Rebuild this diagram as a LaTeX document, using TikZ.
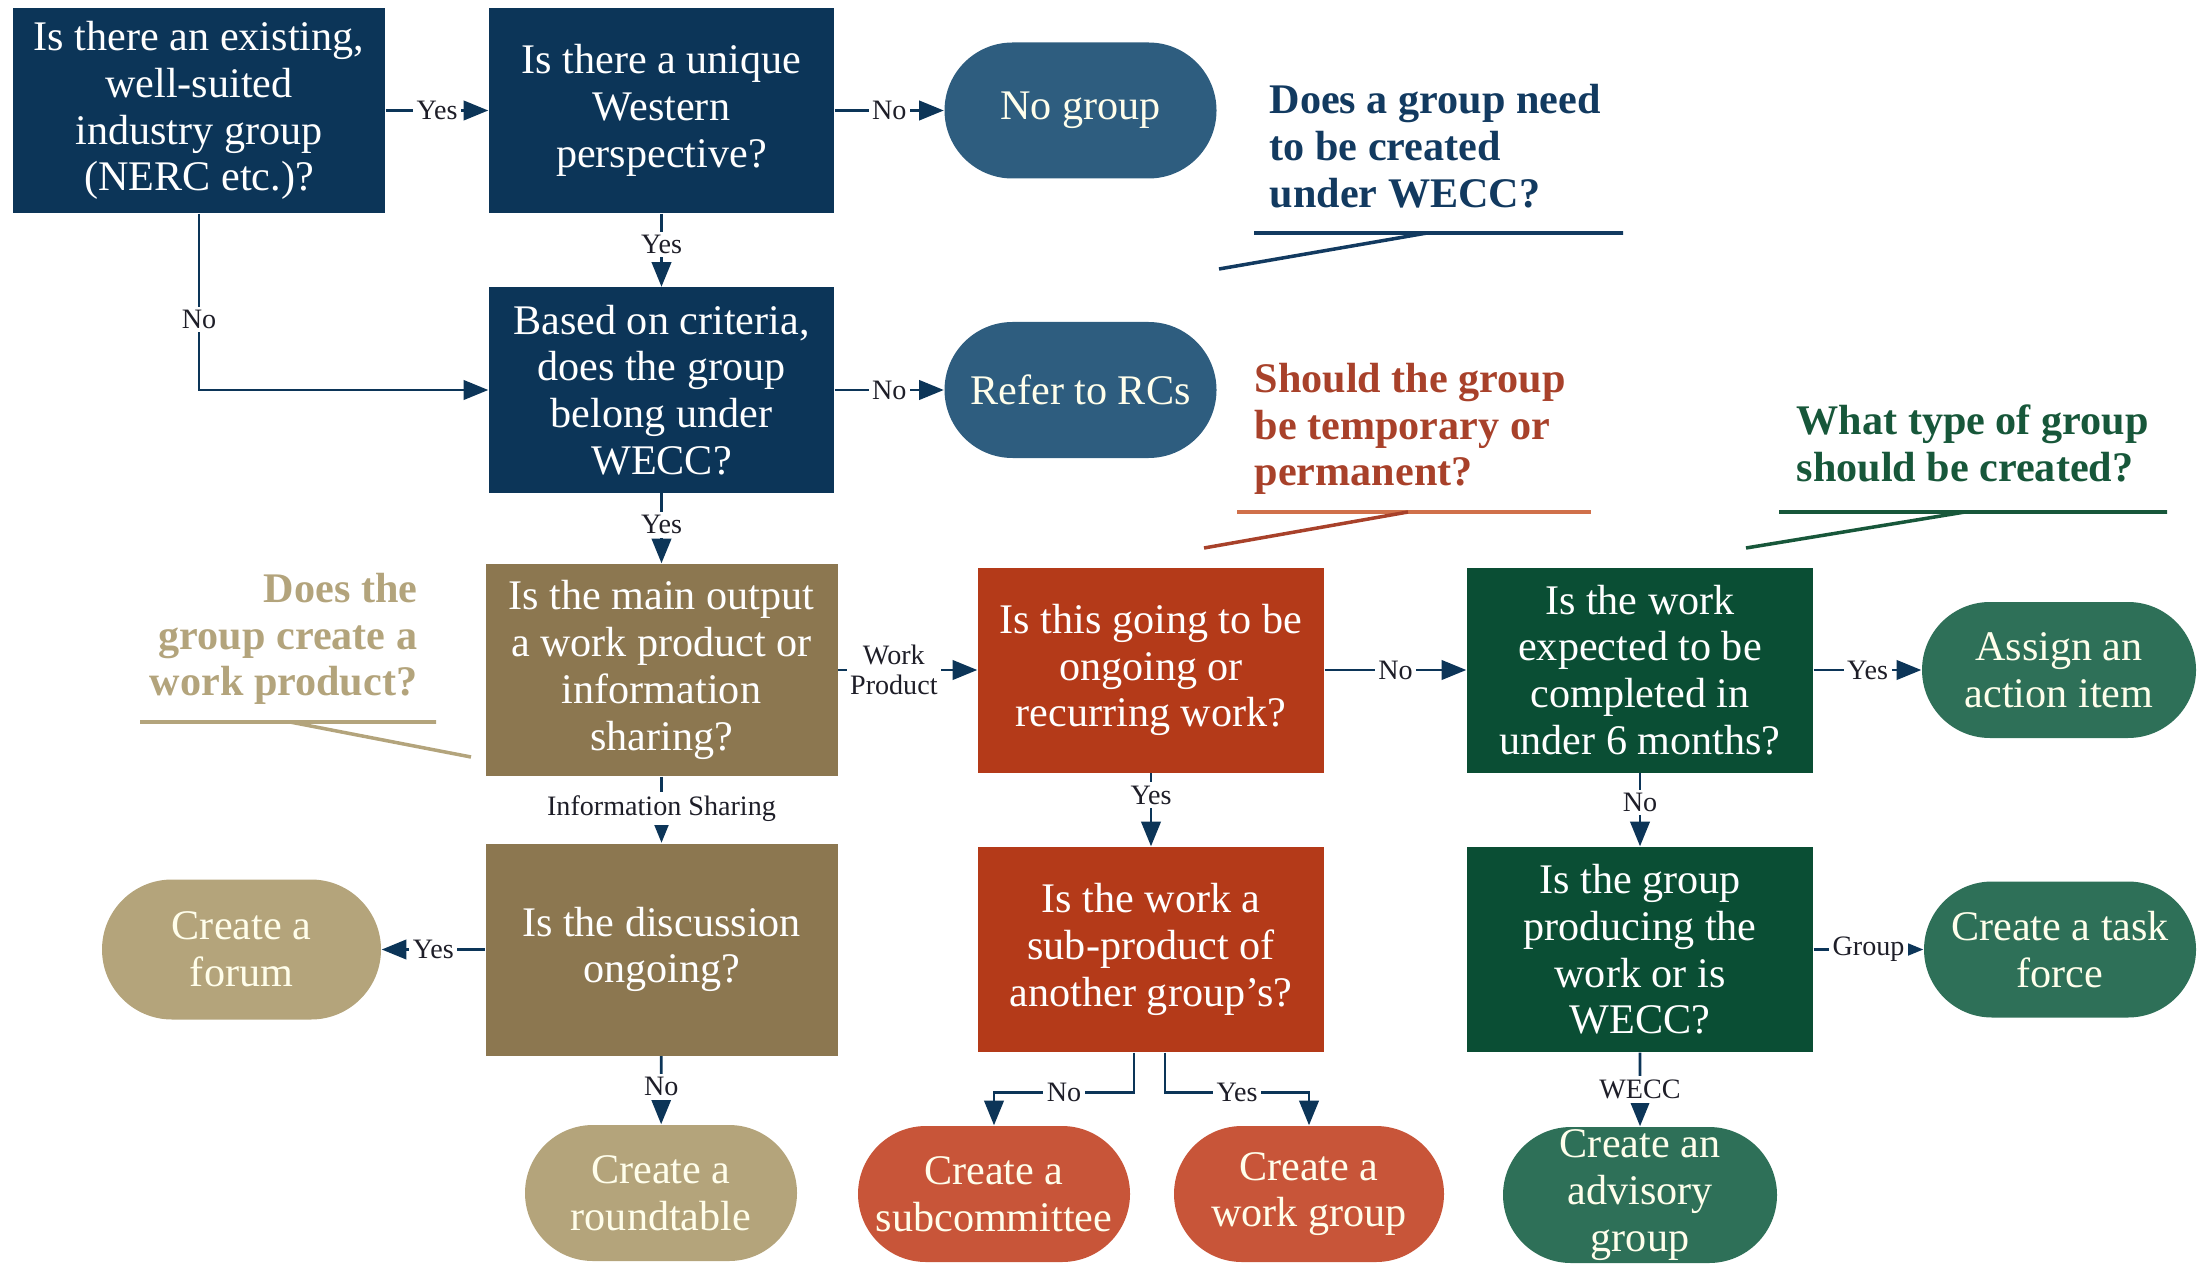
\documentclass[tikz,border=0pt]{standalone}
\usepackage{fontspec}
\setmainfont{Liberation Serif}
\usepackage{tikz}
\usetikzlibrary{arrows.meta, shapes.misc}

\definecolor{navyBox}{RGB}{12,53,88}
\definecolor{slateEnd}{RGB}{46,93,127}
\definecolor{goldBox}{RGB}{140,119,80}
\definecolor{goldEnd}{RGB}{180,164,123}
\definecolor{rustBox}{RGB}{180,58,25}
\definecolor{rustEnd}{RGB}{200,85,57}
\definecolor{greenBox}{RGB}{10,78,52}
\definecolor{greenEnd}{RGB}{46,112,88}
\definecolor{navyText}{RGB}{18,58,96}
\definecolor{rustText}{RGB}{168,65,42}
\definecolor{rustLine}{RGB}{208,112,74}
\definecolor{greenText}{RGB}{23,87,58}
\definecolor{goldText}{RGB}{179,164,124}
\definecolor{lblText}{RGB}{30,30,40}

\newcommand{\boxfont}{\fontsize{12}{13.3}\selectfont}
\newcommand{\lblfont}{\fontsize{8}{8.5}\selectfont}

\tikzset{
	qbox/.style={rectangle, minimum width=3.46cm, minimum height=2.05cm, inner sep=0pt, text=white, align=center, font=\boxfont},
	endbox/.style={rounded rectangle, minimum width=2.72cm, minimum height=1.36cm, inner sep=0pt, text=white!92!yellow, align=center, font=\boxfont},
	note/.style={inner sep=0pt, font=\boxfont\bfseries},
	arr/.style={draw=navyBox, line width=0.8pt, -{Triangle[length=7pt, width=5.5pt]}},
	lbl/.style={fill=white, inner sep=1pt, text=lblText, font=\lblfont, align=center},
	callout/.style={line width=1pt}
}

\begin{document}
\begin{tikzpicture}
		\useasboundingbox (0,0) rectangle (22.06,-12.65);
		
		\node[qbox, fill=navyBox, minimum width=3.72cm] (q1) at (1.99,-1.105){Is there an existing,\\ well-suited\\ industry group\\ (NERC etc.)?};
		\node[qbox, fill=navyBox, minimum width=3.45cm] (q2) at (6.615,-1.105){Is there a unique\\ Western\\ perspective?};
		\node[qbox, fill=navyBox, minimum width=3.45cm] (q3) at (6.615,-3.90){Based on criteria,\\ does the group\\ belong under\\ WECC?};
		\node[endbox, fill=slateEnd] (nogroup) at (10.805,-1.105){No group};
		\node[endbox, fill=slateEnd] (refer) at (10.805,-3.90){Refer to RCs};
		
		\node[qbox, fill=goldBox, minimum width=3.52cm, minimum height=2.12cm] (q4) at (6.615,-6.70){Is the main output\\ a work product or\\ information\\ sharing?};
		\node[qbox, fill=goldBox, minimum width=3.52cm, minimum height=2.12cm] (q5) at (6.615,-9.495){Is the discussion\\ ongoing?};
		\node[endbox, fill=goldEnd, minimum width=2.79cm, minimum height=1.40cm] (forum) at (2.415,-9.495){Create a\\ forum};
		\node[endbox, fill=goldEnd] (roundtable) at (6.61,-11.93){Create a\\ roundtable};
		
		\node[qbox, fill=rustBox] (q6) at (11.51,-6.70){Is this going to be\\ ongoing or\\ recurring work?};
		\node[qbox, fill=rustBox] (q7) at (11.51,-9.495){Is the work a\\ sub-product of\\ another group’s?};
		\node[endbox, fill=rustEnd] (subcomm) at (9.94,-11.94){Create a\\ subcommittee};
		\node[endbox, fill=rustEnd, minimum width=2.70cm] (workgroup) at (13.09,-11.94){Create a\\ work group};
		
		\node[qbox, fill=greenBox] (q8) at (16.40,-6.70){Is the work\\ expected to be\\ completed in\\ under 6 months?};
		\node[qbox, fill=greenBox] (q9) at (16.40,-9.495){Is the group\\ producing the\\ work or is\\ WECC?};
		\node[endbox, fill=greenEnd, minimum width=2.74cm] (action) at (20.59,-6.70){Assign an\\ action item};
		\node[endbox, fill=greenEnd] (taskforce) at (20.60,-9.495){Create a task\\ force};
		\node[endbox, fill=greenEnd, minimum width=2.74cm] (advisory) at (16.40,-11.95){Create an\\ advisory\\ group};
		
		\node[note, text=navyText, anchor=west, align=left] (needgroup) at (12.69,-1.46){Does a group need\\ to be created\\ under WECC?};
		\node[note, text=rustText, anchor=west, align=left] (temporary) at (12.54,-4.29){Should the group\\ be temporary or\\ permanent?};
		\node[note, text=greenText, anchor=west, align=left] (grouptype) at (17.96,-4.435){What type of group\\ should be created?};
		\node[note, text=goldText, anchor=east, align=right] (workprod) at (4.18,-6.39){Does the\\ group create a\\ work product?};
		
		\draw[callout, navyText] (12.54,-2.33) -- (16.23,-2.33) (14.27,-2.33) -- (12.19,-2.69);
		\draw[callout, rustLine] (12.37,-5.12) -- (15.91,-5.12);
		\draw[callout, rustText] (14.08,-5.12) -- (12.04,-5.48);
		\draw[callout, greenText] (17.79,-5.12) -- (21.67,-5.12) (19.65,-5.12) -- (17.46,-5.48);
		\draw[callout, goldText] (1.40,-7.22) -- (4.36,-7.22) (2.90,-7.22) -- (4.71,-7.57);
		
		\draw[arr] (q1) -- node[lbl]{Yes} (q2);
		\draw[arr] (q2) -- node[lbl]{No} (nogroup);
		\draw[arr] (q1.south) |- node[lbl, pos=0.3]{No} (q3.west);
		\draw[arr] (q2) -- node[lbl, pos=0.42]{Yes} (q3);
		\draw[arr] (q3) -- node[lbl]{No} (refer);
		\draw[arr] (q3) -- node[lbl, pos=0.45]{Yes} (q4);
		\draw[arr] (q4) -- node[lbl, pos=0.4]{Work\\ Product} (q6);
		\draw[arr] (q4) -- node[lbl, pos=0.48]{Information Sharing} (q5);
		\draw[arr] (q5) -- node[lbl]{Yes} (forum);
		\draw[arr] (q5) -- node[lbl, pos=0.45]{No} (roundtable);
		\draw[arr] (q6) -- node[lbl]{No} (q8);
		\draw[arr] (q6) -- node[lbl, pos=0.3]{Yes} (q7);
		\draw[arr] (q8) -- node[lbl, pos=0.4]{No} (q9);
		\draw[arr] (q8) -- node[lbl]{Yes} (action);
		\draw[arr] (q9) -- node[lbl]{Group} (taskforce);
		\draw[arr] (q9) -- node[lbl, pos=0.5]{WECC} (advisory);
		\draw[arr] ([xshift=-0.17cm]q7.south) -- ++(0,-0.4) -| node[lbl, pos=0.25]{No} (subcomm.north);
		\draw[arr] ([xshift=0.14cm]q7.south) -- ++(0,-0.4) -| node[lbl, pos=0.25]{Yes} (workgroup.north);
	\end{tikzpicture}
\end{document}
